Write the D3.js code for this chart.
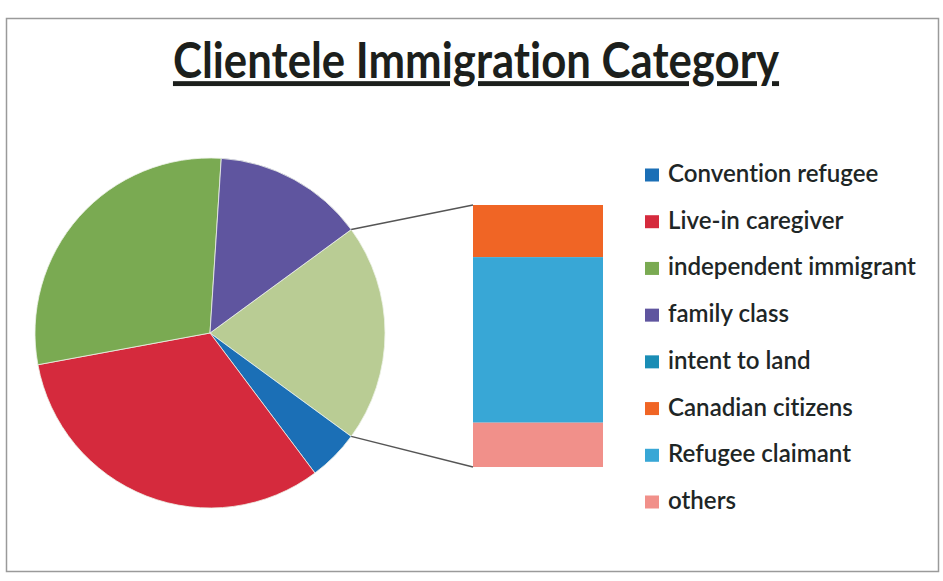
<!DOCTYPE html>
<html><head><meta charset="utf-8">
<script src="https://cdn.jsdelivr.net/npm/d3@7"></script>
<style>body{margin:0;background:#fff}svg{display:block}text{font-variant-ligatures:none;font-feature-settings:"liga" 0}</style>
</head><body>
<svg id="c" width="943" height="581"></svg>
<script>
const title = "Clientele Immigration Category";
const categories = ["Convention refugee","Live-in caregiver","independent immigrant","family class","intent to land","Canadian citizens","Refugee claimant","others"];
const values = [4.7, 32.3, 28.9, 13.9, 0, 4.0, 12.7, 3.4];
const colors = ["#1b6fb6","#d52a3d","#7aaa52","#5f559f","#1a8db5","#f06525","#38a7d6","#f1908a"];
const barCount = 3; // last three go to the secondary bar
const otherColor = "#b9cc94";

const svg = d3.select("#c");
// frame
svg.append("rect").attr("x",6.5).attr("y",18.5).attr("width",932).attr("height",553)
  .attr("fill","#fff").attr("stroke","#9a9a9a").attr("stroke-width",1.5);

// title
const tg = svg.append("g").attr("transform","translate(476,78) scale(1,1.12)");
const t = tg.append("text").attr("x",0).attr("y",0).attr("text-anchor","middle")
  .attr("font-family","Lato, 'Open Sans', sans-serif").attr("font-weight","bold")
  .attr("font-size",40).attr("fill","#1c1f1c").attr("text-decoration","underline").text(title);
let w = t.node().getComputedTextLength();
t.attr("font-size", 40*606/w);

// data split
const n = categories.length;
const pieItems = categories.slice(0, n-barCount).map((c,i)=>({name:c,value:values[i],color:colors[i]}));
const barItems = categories.slice(n-barCount).map((c,i)=>({name:c,value:values[n-barCount+i],color:colors[n-barCount+i]}));
const otherTotal = d3.sum(barItems, d=>d.value);
const total = d3.sum(pieItems,d=>d.value)+otherTotal;
const otherAngle = otherTotal/total*2*Math.PI;
const pieData = [{name:"Other",value:otherTotal,color:otherColor}].concat(pieItems);

const cx=210, cy=333, r=175;
const pie = d3.pie().sort(null).value(d=>d.value)
  .startAngle(Math.PI/2 - otherAngle/2).endAngle(Math.PI/2 - otherAngle/2 + 2*Math.PI);
const arcs = pie(pieData);
const arc = d3.arc().innerRadius(0).outerRadius(r);
const g = svg.append("g").attr("transform",`translate(${cx},${cy})`);
g.selectAll("path").data(arcs.filter(a=>a.data.value>0)).join("path")
  .attr("d",arc).attr("fill",d=>d.data.color).attr("stroke","#eef2e8").attr("stroke-width",0.8);

// bar
const bx=473, bw=130, btop=205, bbot=467;
const y = d3.scaleLinear().domain([0,otherTotal]).range([btop,bbot]);
let acc=0;
const stacked = barItems.map(d=>{const o={...d,y0:acc,y1:acc+d.value};acc+=d.value;return o;});
svg.selectAll("rect.bar").data(stacked).join("rect").attr("class","bar")
  .attr("x",bx).attr("width",bw).attr("y",d=>y(d.y0)).attr("height",d=>y(d.y1)-y(d.y0))
  .attr("fill",d=>d.color);

// connector lines
const oa = arcs[0];
const pt = a=>[cx+r*Math.sin(a), cy-r*Math.cos(a)];
const p1 = pt(oa.startAngle), p2 = pt(oa.endAngle);
svg.append("line").attr("x1",p1[0]).attr("y1",p1[1]).attr("x2",bx).attr("y2",btop)
  .attr("stroke","#555").attr("stroke-width",1.5);
svg.append("line").attr("x1",p2[0]).attr("y1",p2[1]).attr("x2",bx).attr("y2",bbot)
  .attr("stroke","#555").attr("stroke-width",1.5);

// legend
const lg = svg.append("g");
const rowY = d3.scaleLinear().domain([0,n-1]).range([175,502]);
const items = lg.selectAll("g").data(categories).join("g")
  .attr("transform",(d,i)=>`translate(645,${rowY(i)})`);
items.append("rect").attr("x",0).attr("y",-6.5).attr("width",14).attr("height",13)
  .attr("fill",(d,i)=>colors[i]);
const lt = items.append("text").attr("x",23).attr("y",7)
  .attr("font-family","Lato, 'Open Sans', sans-serif").attr("font-size",20).attr("font-weight",600)
  .attr("fill","#1e2626").text(d=>d);
const lw = lt.nodes()[2].getComputedTextLength();
lt.attr("font-size",20*248/lw);
</script>
</body></html>
